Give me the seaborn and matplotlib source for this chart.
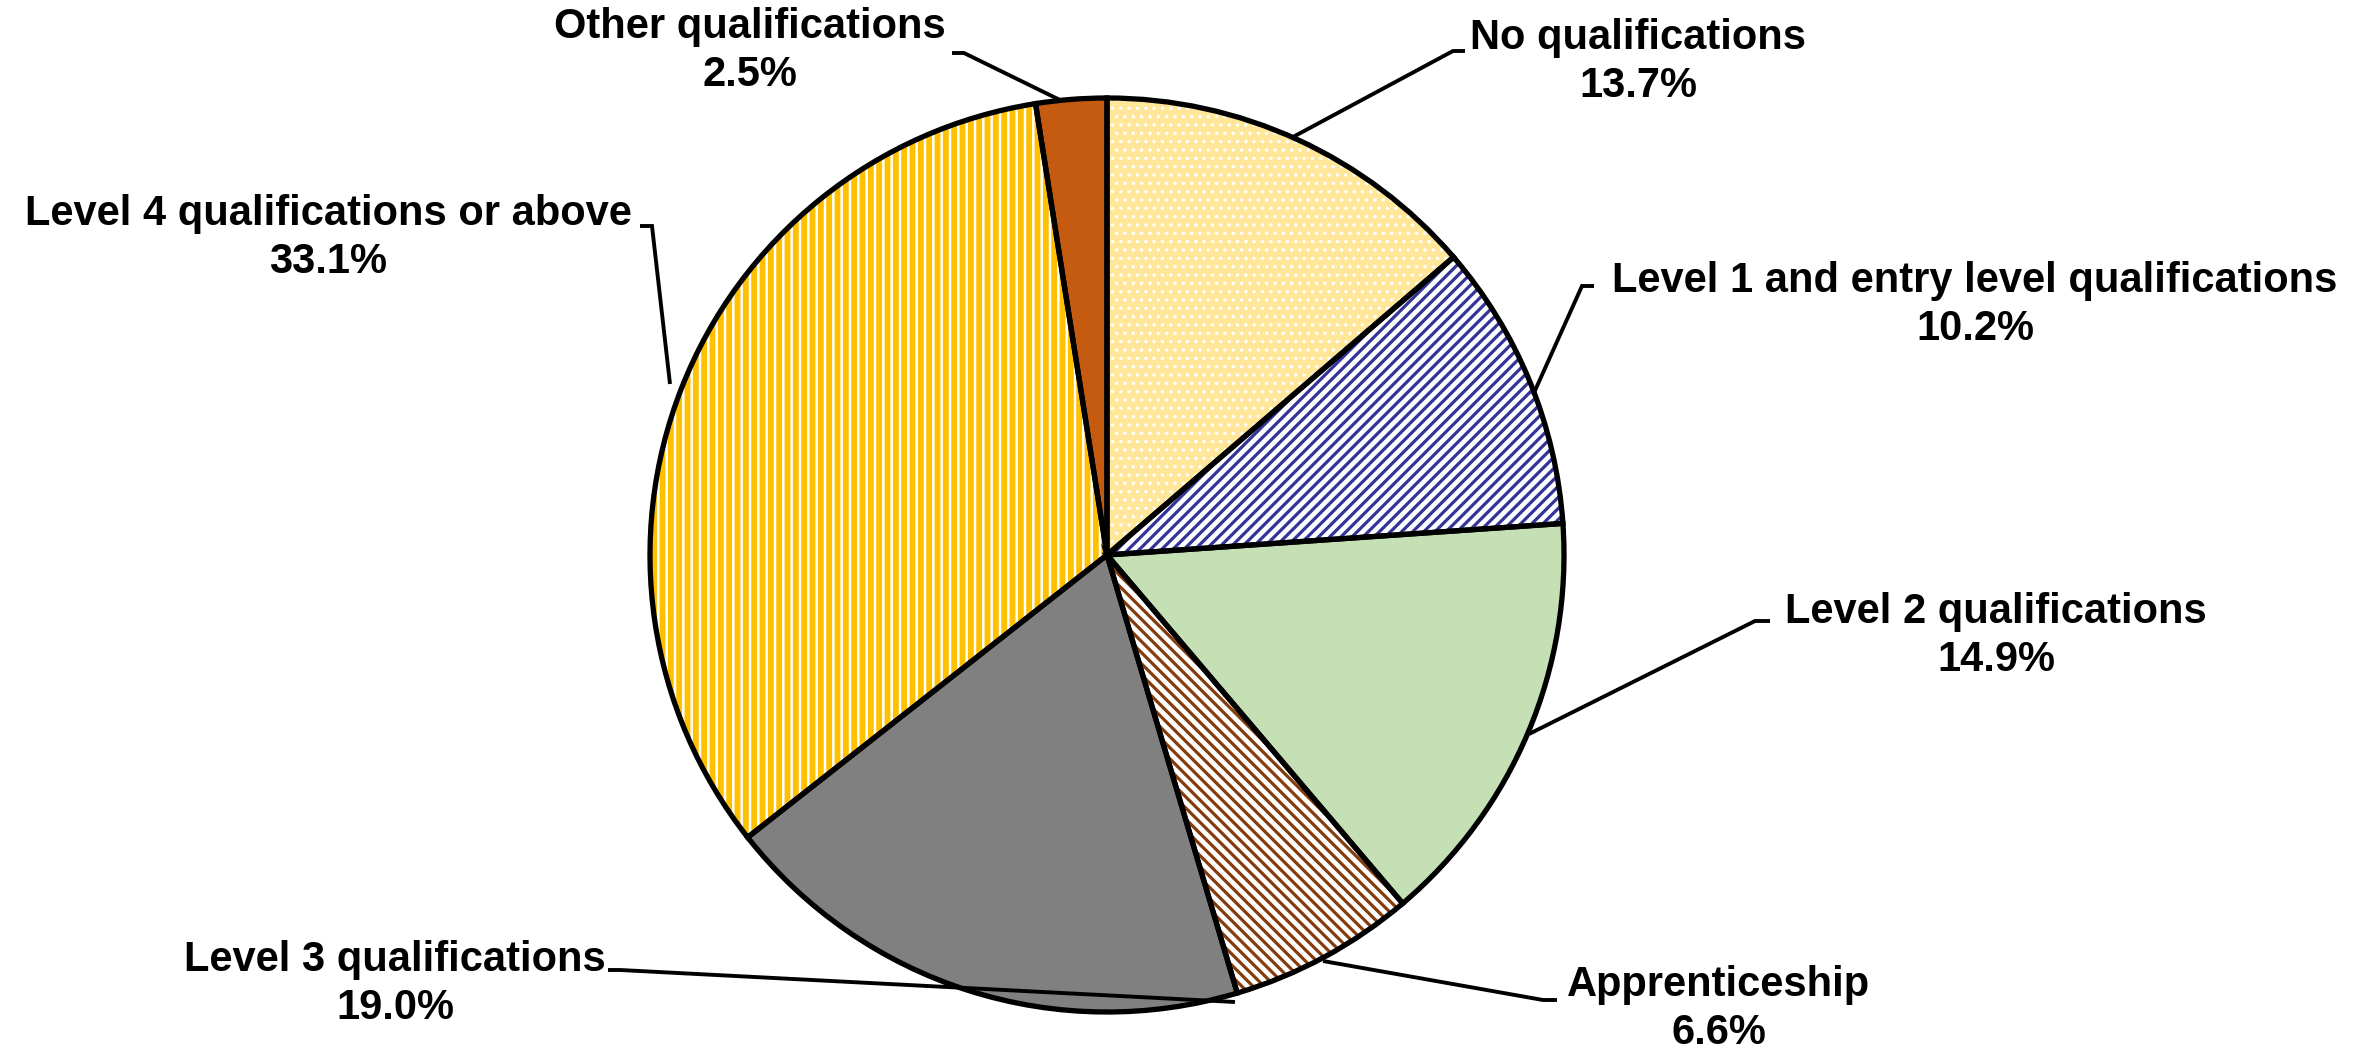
import matplotlib
matplotlib.use("Agg")
import matplotlib.pyplot as plt
from matplotlib import font_manager
import seaborn as sns

# qualification shares (%)
categories = [
    "No qualifications",
    "Level 1 and entry level qualifications",
    "Level 2 qualifications",
    "Apprenticeship",
    "Level 3 qualifications",
    "Level 4 qualifications or above",
    "Other qualifications",
]
shares = [13.7, 10.2, 14.9, 6.6, 19.0, 33.1, 2.5]

face_colors = ["#FFE699", "#FFFFFF", "#C5E0B4", "#FFFFFF", "#808080", "#FFFFFF", "#C55A11"]
hatch_colors = ["#FFFFFF", "#333399", "#C5E0B4", "#843C0C", "#808080", "#FFC000", "#C55A11"]
hatches = ["..", "///", None, "\\\\\\", None, "||", None]
hatch_widths = [1.3, 2.3, 1.0, 2.3, 1.0, 4.2, 1.0]

# label placement in picture pixels: (centre x, top y) and leader line points
label_pos = [(1638, 18), (1975, 261), (1996, 592), (1719, 965), (395, 940), (328, 194), (750, 7)]
leaders = [
    [(1293, 137), (1453, 51), (1465, 51)],
    [(1533, 395), (1582, 286), (1594, 286)],
    [(1529, 734), (1755, 621), (1770, 621)],
    [(1323, 961), (1543, 1000), (1557, 1000)],
    [(1235, 1002), (620, 970), (608, 970)],
    [(670, 384), (652, 226), (640, 226)],
    [(1062, 101), (964, 53), (952, 53)],
]
narrow = [False, True, False, False, False, True, False]

W, H = 2362, 1052
CX, CY, R = 1107, 555, 457

sns.set_theme(style="white")
plt.rcParams["font.family"] = ["Liberation Sans", "DejaVu Sans"]

names = {f.name for f in font_manager.fontManager.ttflist}
narrow_family = ["Liberation Sans Narrow", "Liberation Sans"] if "Liberation Sans Narrow" in names else ["Liberation Sans"]

fig = plt.figure(figsize=(W / 100, H / 100), dpi=100)
ax = fig.add_axes([0, 0, 1, 1])

# fill + hatch pass (hatch colour follows the edge colour)
wedges, _ = ax.pie(shares, startangle=90, counterclock=False, center=(CX, H - CY), radius=R,
                   colors=face_colors, wedgeprops=dict(linewidth=0))
for w, hc, h, hw in zip(wedges, hatch_colors, hatches, hatch_widths):
    w.set_edgecolor(hc)
    w.set_linewidth(0)
    if h:
        w.set_hatch(h)
        w.set_hatch_linewidth(hw)

# outline pass
ax.pie(shares, startangle=90, counterclock=False, center=(CX, H - CY), radius=R,
       colors=["none"] * len(shares),
       wedgeprops=dict(edgecolor="black", linewidth=3.8, fill=False))

for pts in leaders:
    xs = [p[0] for p in pts]
    ys = [H - p[1] for p in pts]
    ax.plot(xs, ys, color="black", lw=2.8, solid_joinstyle="miter", solid_capstyle="butt")

for name, val, (x, y), nar in zip(categories, shares, label_pos, narrow):
    ax.text(x, H - y, f"{name}\n{val:.1f}%", ha="center", va="top", multialignment="center",
            fontsize=30, fontweight="bold", color="black", linespacing=1.25,
            family=narrow_family if nar else ["Liberation Sans"])

ax.set_xlim(0, W)
ax.set_ylim(0, H)
ax.set_aspect("equal")
ax.axis("off")

fig.savefig("out.png", dpi=100, facecolor="white")
